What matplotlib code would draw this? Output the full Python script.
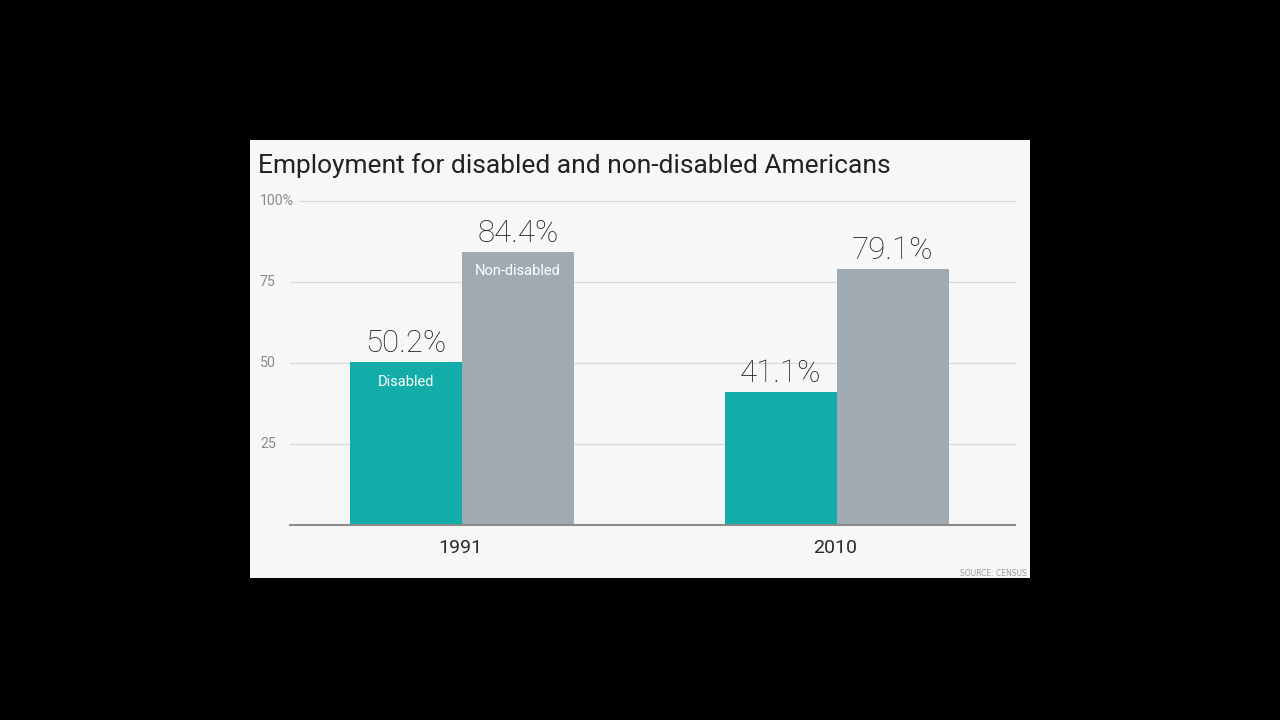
import matplotlib.pyplot as plt
from matplotlib.patches import Rectangle
import matplotlib.transforms as mtransforms

years = ['1991', '2010']
disabled = [50.2, 41.1]
non_disabled = [84.4, 79.1]
ticks = [25, 50, 75, 100]
tick_labels = ['25', '50', '75', '100%']

teal = '#12ada8'
grey = '#a0aab3'

plt.rcParams['font.family'] = ['Roboto', 'DejaVu Sans']

fig = plt.figure(figsize=(12.8, 7.2), dpi=100, facecolor='black')
# light panel behind the chart
fig.patches.append(Rectangle((250 / 1280, 142 / 720), 780 / 1280, 438 / 720,
                             transform=fig.transFigure, facecolor='#f7f7f7',
                             edgecolor='none', zorder=-5))

ax = fig.add_axes([290 / 1280, 195 / 720, 725 / 1280, 324 / 720])
ax.set_facecolor('none')
ax.set_xlim(-0.4587, 1.4747)
ax.set_ylim(0, 100)

w = 0.2987
x = [0, 1]
ax.bar([i - w / 2 for i in x], disabled, width=w, color=teal, zorder=3)
ax.bar([i + w / 2 for i in x], non_disabled, width=w, color=grey, zorder=3)

for i in x:
    ax.text(i - w / 2, disabled[i] + 1.2, f'{disabled[i]}%', ha='center', va='bottom',
            fontsize=22.5, color='#1e1e1e', fontweight='light')
    ax.text(i + w / 2, non_disabled[i] + 1.2, f'{non_disabled[i]}%', ha='center', va='bottom',
            fontsize=22.5, color='#1e1e1e', fontweight='light')
    ax.text(i - 0.005, -4.3, years[i], ha='center', va='top', fontsize=14, color='#2a2a2a')

ax.text(x[0] - w / 2, disabled[0] - 6, 'Disabled', ha='center', va='center',
        fontsize=10.5, color='white', fontstretch='condensed')
ax.text(x[0] + w / 2, non_disabled[0] - 6, 'Non-disabled', ha='center', va='center',
        fontsize=10.5, color='white', fontstretch='condensed')

# gridlines and tick labels
blend = mtransforms.blended_transform_factory(fig.transFigure, ax.transData)
for t, lab in zip(ticks, tick_labels):
    start = -0.4587 + (10 / 375 if t == 100 else 0)
    ax.plot([start, 1.4747], [t, t], color='#d8d8d8', lw=0.8, zorder=1, clip_on=False)
    ax.text(260 / 1280, t, lab, transform=blend, ha='left', va='center',
            fontsize=10.2, color='#8a8a8a')
ax.plot([-0.4587, 1.4747], [0, 0], color='#8c8c8c', lw=1.5, zorder=4, clip_on=False)

for s in ax.spines.values():
    s.set_visible(False)
ax.set_xticks([])
ax.set_yticks([])

fig.text(258 / 1280, 1 - 166 / 720, 'Employment for disabled and non-disabled Americans',
         ha='left', va='center', fontsize=19, color='#222222')
fig.text(1027 / 1280, 1 - 574 / 720, 'SOURCE: CENSUS', ha='right', va='center',
         fontsize=5.5, color='#999999', family='DejaVu Sans')

fig.savefig('out.png', dpi=100, facecolor='black')
